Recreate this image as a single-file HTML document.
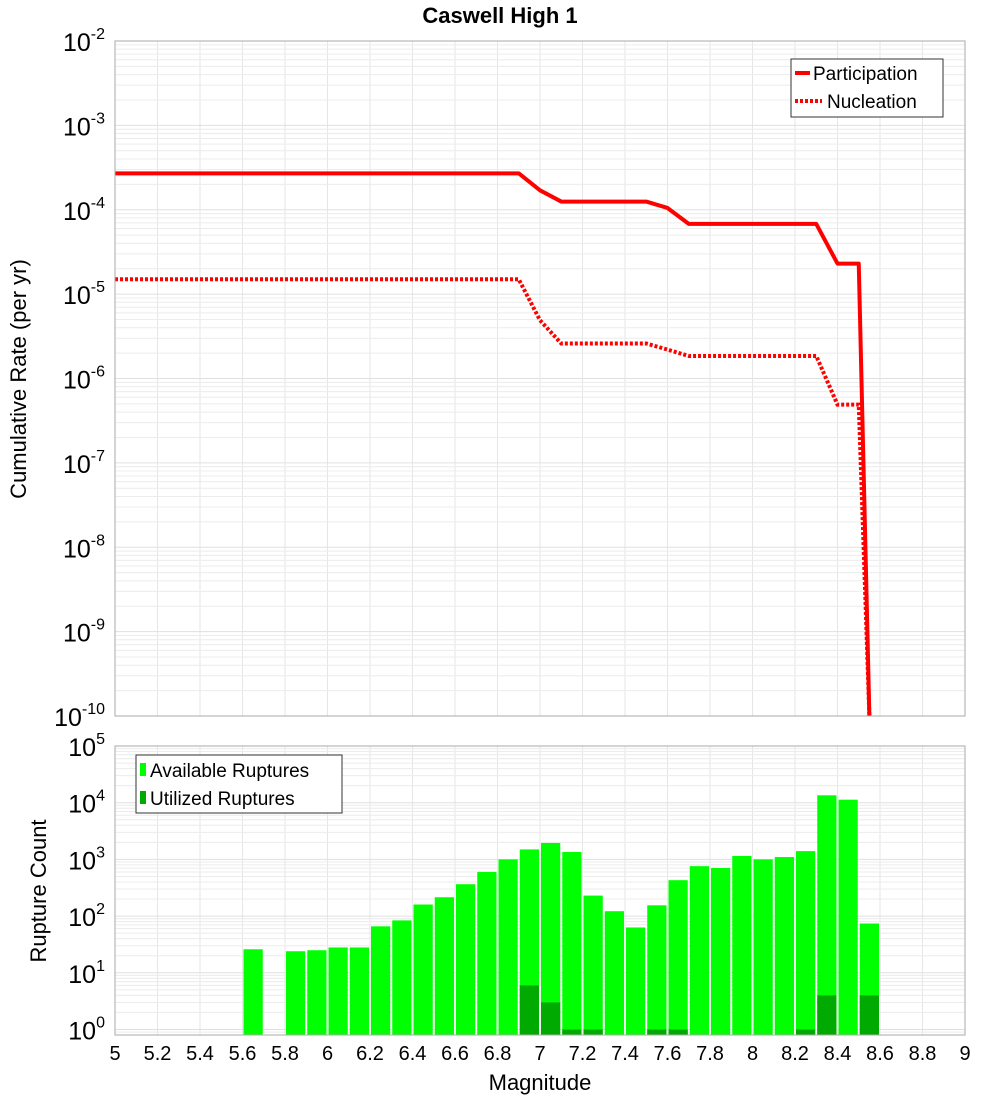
<!DOCTYPE html>
<html><head><meta charset="utf-8"><style>
body{margin:0;background:#fff;}
svg{font-family:"Liberation Sans","DejaVu Sans",sans-serif;}
</style></head><body>
<svg id="c" width="1000" height="1100" xmlns="http://www.w3.org/2000/svg">
<text x="500" y="23" text-anchor="middle" font-size="22" font-weight="bold">Caswell High 1</text>
<text transform="translate(26,379) rotate(-90)" text-anchor="middle" font-size="22">Cumulative Rate (per yr)</text>
<text transform="translate(46,891) rotate(-90)" text-anchor="middle" font-size="22">Rupture Count</text>
<text x="540" y="1090" text-anchor="middle" font-size="22">Magnitude</text>
<g id="grid"></g><g id="marks"></g><g id="axes"></g>
<g>
<rect x="791" y="59" width="152" height="58" fill="#fff" stroke="#333" stroke-width="1"/>
<line x1="795" y1="73" x2="810" y2="73" stroke="#f00" stroke-width="4"/>
<text x="813" y="80" font-size="19">Participation</text>
<line x1="795" y1="101" x2="822" y2="101" stroke="#f00" stroke-width="4" stroke-dasharray="3,2"/>
<text x="827" y="108" font-size="19">Nucleation</text>
</g>
<g>
<rect x="136" y="755" width="206" height="58" fill="#fff" stroke="#333" stroke-width="1"/>
<rect x="140" y="763" width="6" height="13" fill="#00ff00"/>
<text x="150" y="777" font-size="19">Available Ruptures</text>
<rect x="140" y="791" width="6" height="13" fill="#00aa00"/>
<text x="150" y="805" font-size="19">Utilized Ruptures</text>
</g>
</svg>
<script>
const partMag=[5.0,6.9,7.0,7.1,7.5,7.6,7.7,8.3,8.4,8.5,8.55];
const partRate=[2.7e-4,2.7e-4,1.7e-4,1.25e-4,1.25e-4,1.05e-4,6.8e-5,6.8e-5,2.3e-5,2.3e-5,1e-11];
const nuclMag=[5.0,6.9,7.0,7.1,7.5,7.6,7.7,8.3,8.4,8.5,8.55];
const nuclRate=[1.5e-5,1.5e-5,4.9e-6,2.6e-6,2.6e-6,2.2e-6,1.85e-6,1.85e-6,4.9e-7,4.9e-7,1e-11];
const binMag=[5.65,5.85,5.95,6.05,6.15,6.25,6.35,6.45,6.55,6.65,6.75,6.85,6.95,7.05,7.15,7.25,7.35,7.45,7.55,7.65,7.75,7.85,7.95,8.05,8.15,8.25,8.35,8.45,8.55];
const availCount=[26,24,25,28,28,66,84,160,215,365,600,1000,1500,1950,1350,230,122,63,155,430,760,705,1150,1000,1100,1400,13500,11300,74];
const utilCount=[0,0,0,0,0,0,0,0,0,0,0,0,6,3,1,1,0,0,1,1,0,0,0,0,0,1,4,0,4];
const xTicks=["5","5.2","5.4","5.6","5.8","6","6.2","6.4","6.6","6.8","7","7.2","7.4","7.6","7.8","8","8.2","8.4","8.6","8.8","9"];
const topExps=[-2,-3,-4,-5,-6,-7,-8,-9,-10];
const botExps=[5,4,3,2,1,0];
const NS="http://www.w3.org/2000/svg";
const L=115,R=965,T1=41,B1=716,T2=746,B2=1035;
const X=m=>L+(m-5)/4*(R-L);
const Y1=v=>T1+(-2-Math.log10(v))*(B1-T1)/8;
const Y2=v=>T2+(5-Math.log10(v))*56.7;
function el(t,a,p){const e=document.createElementNS(NS,t);for(const k in a)e.setAttribute(k,a[k]);document.getElementById(p).appendChild(e);return e;}
// grids
for(let i=0;i<=20;i++){const x=X(5+i*0.2);
 let g=el('line',{x1:x,x2:x,y1:T1,y2:B1,stroke:'#e6e6e6','stroke-width':1},'grid');
 
 g=el('line',{x1:x,x2:x,y1:T2,y2:B2,stroke:'#e6e6e6','stroke-width':1},'grid');
 }
for(let e=-10;e<-2;e++)for(let k=1;k<10;k++){const y=Y1(k*Math.pow(10,e));
 const g=el('line',{x1:L,x2:R,y1:y,y2:y,stroke:k==1?'#e0e0e0':'#ececec','stroke-width':1},'grid');
 }
for(let e=-1;e<5;e++)for(let k=1;k<10;k++){const y=Y2(k*Math.pow(10,e));if(y>B2)continue;
 const g=el('line',{x1:L,x2:R,y1:y,y2:y,stroke:k==1?'#e0e0e0':'#ececec','stroke-width':1},'grid');
 }
// bars
binMag.forEach((m,i)=>{const x0=X(m-0.05)+1,x1=X(m+0.05)-1;
 const y=Math.max(T2,Y2(availCount[i]));
 const b=el('rect',{x:x0,y:y,width:x1-x0,height:B2-y,fill:'#00ff00'},'marks');
 
 if(utilCount[i]>0){const yu=Y2(utilCount[i]);
  const u=el('rect',{x:x0,y:yu,width:x1-x0,height:B2-yu,fill:'#00aa00'},'marks');
  }});
// lines
function pts(ms,vs){return ms.map((m,i)=>X(m)+','+Math.min(B1,Y1(vs[i]))).join(' ');}
const cp=el('clipPath',{id:'cl'},'marks');el('rect',{x:L,y:T1,width:R-L,height:B1-T1},'marks').remove();
const cr=document.createElementNS(NS,'rect');cr.setAttribute('x',L);cr.setAttribute('y',T1);cr.setAttribute('width',R-L);cr.setAttribute('height',B1-T1);cp.appendChild(cr);
let pl=el('polyline',{points:pts(nuclMag,nuclRate),fill:'none',stroke:'#f00','stroke-width':4,'stroke-dasharray':'3,2'},'marks');

pl=el('polyline',{points:pts(partMag,partRate),fill:'none',stroke:'#f00','stroke-width':4,'stroke-linejoin':'round'},'marks');

// frames
let f=el('rect',{x:L,y:T1,width:R-L,height:B1-T1,fill:'none',stroke:'#aaa'},'axes');
f=el('rect',{x:L,y:T2,width:R-L,height:B2-T2,fill:'none',stroke:'#aaa'},'axes');
// tick labels
xTicks.forEach(t=>{const tx=el('text',{x:X(+t),y:1060,'text-anchor':'middle','font-size':20},'axes');tx.textContent=t;
 });
function ylab(e,y,n){const t=el('text',{x:105,y:y,'text-anchor':'end','font-size':25},'axes');
 
 t.appendChild(document.createTextNode('10'));
 const s=document.createElementNS(NS,'tspan');s.setAttribute('dy','-12');s.setAttribute('font-size','16');s.textContent=e;t.appendChild(s);}
topExps.forEach(e=>ylab(String(e),Y1(Math.pow(10,e))+10,'top-y-tick-label'));
botExps.forEach(e=>ylab(String(e),Y2(Math.pow(10,e))+10,'bottom-y-tick-label'));
</script>
</body></html>
